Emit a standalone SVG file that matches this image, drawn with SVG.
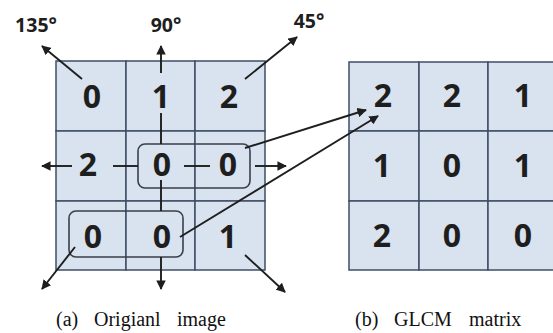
<svg xmlns="http://www.w3.org/2000/svg" width="553" height="333" viewBox="0 0 553 333">
  <style>
    .cell { fill: #d9e2ef; stroke: #3f4d66; stroke-width: 1.5; }
    .num { font-family: "Open Sans", "DejaVu Sans", sans-serif; font-weight: 700; font-size: 32px; fill: #1e1e1e; text-anchor: middle; }
    .ang { font-family: "Open Sans", "DejaVu Sans", sans-serif; font-weight: 700; font-size: 19.5px; fill: #1e1e1e; text-anchor: middle; }
    .cap { font-family: "Liberation Serif", "Times New Roman", serif; font-size: 20px; fill: #111; }
    .ln { stroke: #1e1e1e; stroke-width: 1.9; fill: none; }
    .arr { stroke: #1e1e1e; stroke-width: 1.9; fill: none; marker-end: url(#head); }
    .box { fill: none; stroke: #3a3f4a; stroke-width: 1.6; }
  </style>
  <defs>
    <marker id="head" viewBox="0 0 10 10" refX="9" refY="5" markerWidth="5" markerHeight="5" orient="auto" markerUnits="strokeWidth">
      <path d="M0,0 L10,5 L0,10 Z" fill="#1e1e1e"/>
    </marker>
  </defs>
  <rect width="553" height="333" fill="#ffffff"/>

  <!-- original image grid -->
  <g id="image-grid">
    <rect class="cell" x="56" y="61" width="70" height="70"/>
    <rect class="cell" x="126" y="61" width="69" height="70"/>
    <rect class="cell" x="195" y="61" width="70" height="70"/>
    <rect class="cell" x="56" y="131" width="70" height="70"/>
    <rect class="cell" x="126" y="131" width="69" height="70"/>
    <rect class="cell" x="195" y="131" width="70" height="70"/>
    <rect class="cell" x="56" y="201" width="70" height="69"/>
    <rect class="cell" x="126" y="201" width="69" height="69"/>
    <rect class="cell" x="195" y="201" width="70" height="69"/>
    <text class="num" x="92" y="108">0</text>
    <text class="num" x="161" y="108">1</text>
    <text class="num" x="229" y="108">2</text>
    <text class="num" x="88" y="176">2</text>
    <text class="num" x="162" y="176">0</text>
    <text class="num" x="228" y="176">0</text>
    <text class="num" x="93" y="248">0</text>
    <text class="num" x="162" y="248">0</text>
    <text class="num" x="228" y="248">1</text>
  </g>

  <!-- GLCM matrix grid -->
  <g id="glcm-grid">
    <rect class="cell" x="349" y="62" width="70" height="69"/>
    <rect class="cell" x="419" y="62" width="69" height="69"/>
    <rect class="cell" x="488" y="62" width="70" height="69"/>
    <rect class="cell" x="349" y="131" width="70" height="70"/>
    <rect class="cell" x="419" y="131" width="69" height="70"/>
    <rect class="cell" x="488" y="131" width="70" height="70"/>
    <rect class="cell" x="349" y="201" width="70" height="69"/>
    <rect class="cell" x="419" y="201" width="69" height="69"/>
    <rect class="cell" x="488" y="201" width="70" height="69"/>
    <text class="num" x="383" y="107">2</text>
    <text class="num" x="452" y="107">2</text>
    <text class="num" x="523" y="107">1</text>
    <text class="num" x="382" y="177">1</text>
    <text class="num" x="452" y="177">0</text>
    <text class="num" x="523" y="177">1</text>
    <text class="num" x="382" y="247">2</text>
    <text class="num" x="452" y="247">0</text>
    <text class="num" x="523" y="247">0</text>
  </g>

  <!-- highlighted pixel pairs -->
  <g id="pair-boxes">
    <rect class="box" x="138" y="144" width="112" height="44" rx="7"/>
    <rect class="box" x="69" y="211" width="114" height="46" rx="7"/>
  </g>

  <!-- direction labels -->
  <g id="angle-labels">
    <text class="ang" x="36" y="32">135°</text>
    <text class="ang" x="166" y="32">90°</text>
    <text class="ang" x="309" y="28">45°</text>
  </g>

  <!-- connectors -->
  <g id="connectors">
    <!-- top row directions -->
    <line class="arr" x1="82" y1="79" x2="42" y2="46"/>
    <line class="arr" x1="161" y1="73" x2="161" y2="46"/>
    <line class="arr" x1="245" y1="79" x2="297" y2="37"/>
    <line class="ln" x1="161" y1="113" x2="161" y2="144"/>
    <!-- middle row -->
    <line class="arr" x1="72" y1="166" x2="42" y2="166"/>
    <line class="ln" x1="113" y1="166" x2="138" y2="166"/>
    <line class="ln" x1="184" y1="166" x2="210" y2="166"/>
    <line class="arr" x1="255" y1="166" x2="286" y2="166"/>
    <line class="ln" x1="161" y1="180" x2="161" y2="211"/>
    <!-- bottom row directions -->
    <line class="arr" x1="75" y1="247" x2="42" y2="289"/>
    <line class="arr" x1="161" y1="257" x2="161" y2="289"/>
    <line class="arr" x1="245" y1="255" x2="285" y2="292"/>
    <!-- pairs to matrix entry -->
    <line class="arr" x1="245" y1="148" x2="366" y2="110"/>
    <line class="arr" x1="180" y1="237" x2="378" y2="116"/>
  </g>

  <!-- captions -->
  <g id="captions">
    <text class="cap" y="326"><tspan x="56">(a)</tspan><tspan x="94">Origianl</tspan><tspan x="177">image</tspan></text>
    <text class="cap" y="326"><tspan x="355">(b)</tspan><tspan x="394">GLCM</tspan><tspan x="469">matrix</tspan></text>
  </g>
</svg>
